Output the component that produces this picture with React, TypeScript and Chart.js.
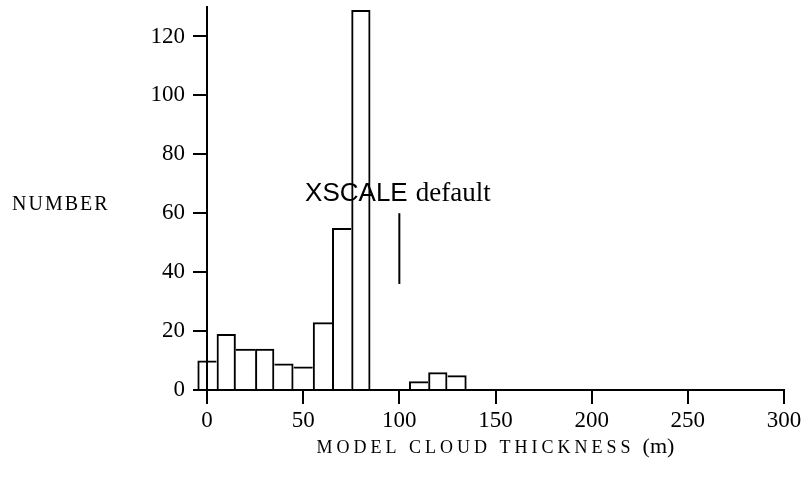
import React, { useEffect, useRef } from "react";
import { Chart, registerables } from "chart.js";

Chart.register(...registerables);

// ---- data ----
const binCenters = [0, 10, 20, 30, 40, 50, 60, 70, 80, 90, 100, 110, 120, 130];
const counts = [10, 19, 14, 14, 9, 8, 23, 55, 129, 0, 0, 3, 6, 5];
const xTickValues = [0, 50, 100, 150, 200, 250, 300];
const yTickValues = [0, 20, 40, 60, 80, 100, 120];
const markerXs = [100, 100];
const markerYs = [36, 60];
const noteSans = "XSCALE";
const noteSerif = "default";
const noteAnchor = [51, 64]; // data coords (x, y) of the note's left baseline
const yTitle = "NUMBER";
const xTitle = "MODEL CLOUD THICKNESS";
const xUnit = "(m)";

const SERIF = "'Liberation Serif', 'DejaVu Serif', serif";
const SANS = "'Liberation Sans', 'DejaVu Sans', sans-serif";

function sideWidth(i: number, side: "left" | "right"): number {
  const v = counts[i];
  if (v <= 0) return 0;
  if (side === "left") {
    const prev = i > 0 ? counts[i - 1] : 0;
    return prev <= v ? 2 : 0;
  }
  const next = i < counts.length - 1 ? counts[i + 1] : 0;
  return next < v ? 2 : 0;
}

const textPlugin = {
  id: "textPlugin",
  afterDraw(chart: any) {
    const ctx = chart.ctx as CanvasRenderingContext2D;
    const xs = chart.scales.x;
    const ys = chart.scales.y;
    const area = chart.chartArea;
    ctx.save();
    ctx.fillStyle = "#000";
    ctx.textBaseline = "alphabetic";
    ctx.textAlign = "left";

    // Note "XSCALE default"
    const nx = xs.getPixelForValue(noteAnchor[0]);
    const ny = ys.getPixelForValue(noteAnchor[1]);
    ctx.font = `26px ${SANS}`;
    ctx.fillText(noteSans, nx, ny);
    const w1 = ctx.measureText(noteSans).width;
    ctx.font = `27px ${SERIF}`;
    ctx.fillText(noteSerif, nx + w1 + 8, ny);

    // Y title (horizontal, small caps style)
    (ctx as any).letterSpacing = "2px";
    ctx.font = `20px ${SERIF}`;
    ctx.fillText(yTitle, 12, 210);

    // X title
    (ctx as any).letterSpacing = "4px";
    ctx.font = `18px ${SERIF}`;
    const tw = ctx.measureText(xTitle).width;
    (ctx as any).letterSpacing = "0px";
    ctx.font = `22px ${SERIF}`;
    const uw = ctx.measureText(xUnit).width;
    const total = tw + 8 + uw;
    const cx = (area.left + area.right) / 2;
    const startX = cx - total / 2;
    const by = area.bottom + 63;
    (ctx as any).letterSpacing = "4px";
    ctx.font = `18px ${SERIF}`;
    ctx.fillText(xTitle, startX, by);
    (ctx as any).letterSpacing = "0px";
    ctx.font = `22px ${SERIF}`;
    ctx.fillText(xUnit, startX + tw + 8, by);
    ctx.restore();
  },
};

export default function App() {
  const ref = useRef<HTMLCanvasElement | null>(null);
  useEffect(() => {
    if (!ref.current) return;
    const chart = new Chart(ref.current, {
      type: "bar",
      data: {
        datasets: [
          {
            type: "bar",
            data: binCenters.map((x, i) => ({ x, y: counts[i] })),
            backgroundColor: "rgba(255,255,255,0)",
            borderColor: "#000",
            borderWidth: (c: any) => ({
              top: 2,
              bottom: 0,
              left: sideWidth(c.dataIndex, "left"),
              right: sideWidth(c.dataIndex, "right"),
            }),
            borderSkipped: false,
            barPercentage: 1,
            categoryPercentage: 1,
            inflateAmount: 0,
            clip: false as any,
          } as any,
          {
            type: "line",
            data: markerXs.map((x, i) => ({ x, y: markerYs[i] })),
            borderColor: "#000",
            borderWidth: 2,
            pointRadius: 0,
            fill: false,
          } as any,
        ],
      },
      options: {
        responsive: false,
        animation: false,
        events: [],
        layout: { padding: { top: 7, right: 22, left: 0, bottom: 0 } },
        plugins: { legend: { display: false }, tooltip: { enabled: false } },
        scales: {
          x: {
            type: "linear",
            min: 0,
            max: 300,
            offset: false,
            afterFit: (s: any) => {
              s.height = 91;
              s.paddingLeft = 0;
              s.paddingRight = 0;
            },
            afterBuildTicks: (s: any) => {
              s.ticks = xTickValues.map((v) => ({ value: v }));
            },
            grid: {
              offset: false,
              drawOnChartArea: false,
              drawTicks: true,
              tickLength: 14,
              color: "#000",
              lineWidth: 2,
            },
            border: { display: true, color: "#000", width: 2 },
            ticks: {
              color: "#000",
              padding: 3,
              maxRotation: 0,
              font: { family: SERIF, size: 23 },
            },
          },
          y: {
            type: "linear",
            min: 0,
            max: 130,
            afterFit: (s: any) => {
              s.width = 207;
              s.paddingTop = 0;
              s.paddingBottom = 0;
            },
            afterBuildTicks: (s: any) => {
              s.ticks = yTickValues.map((v) => ({ value: v }));
            },
            grid: {
              drawOnChartArea: false,
              drawTicks: true,
              tickLength: 14,
              color: "#000",
              lineWidth: 2,
            },
            border: { display: true, color: "#000", width: 2 },
            ticks: {
              color: "#000",
              padding: 8,
              font: { family: SERIF, size: 23 },
            },
          },
        },
      } as any,
      plugins: [textPlugin],
    });
    return () => chart.destroy();
  }, []);
  return (
    <canvas
      ref={ref}
      width={806}
      height={481}
      style={{ position: "fixed", left: 0, top: 0, display: "block", background: "#fff" }}
    />
  );
}
